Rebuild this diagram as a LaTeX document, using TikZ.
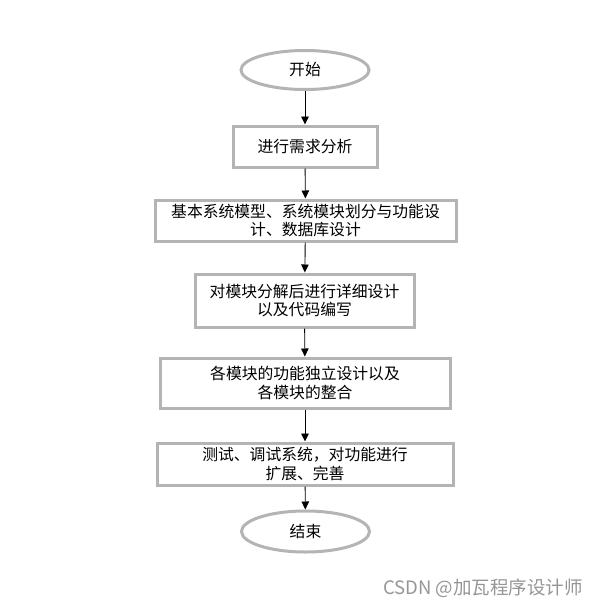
\documentclass[tikz,border=0pt]{standalone}
\usepackage{fontspec}
\newfontfamily\cjk{Noto Sans CJK SC}
\usepackage{tikz}
\usetikzlibrary{arrows.meta,positioning,shapes.geometric}
\definecolor{boxgray}{RGB}{180,180,180}
\definecolor{markgray}{RGB}{150,150,150}
\tikzset{
  startend/.style  = {ellipse, draw=boxgray, line width=3pt, fill=white,
                      inner sep=0pt, minimum width=128pt, minimum height=39pt},
  procbox/.style   = {rectangle, draw=boxgray, line width=3pt, fill=white,
                      align=center, inner sep=2pt},
  flowarrow/.style = {-{Triangle[length=8pt,width=7.5pt]}, line width=0.9pt, black},
  watermark/.style = {text=markgray, font=\cjk\fontsize{18.5}{20}\selectfont},
}

\begin{document}
\begin{tikzpicture}[x=1pt,y=-1pt,
    every node/.style={font=\cjk\fontsize{15.8}{18.5}\selectfont}]
  \useasboundingbox[fill=white] (0,0) rectangle (605,608);

  % start / end
  \node[startend] (start) at (305,70) {开始};
  \node[startend, minimum height=41pt] (finish) at (305.5,531.5) {结束};

  % steps
  \node[procbox, minimum width=144pt, minimum height=41pt] (need) at (305,146.5)
       {进行需求分析};
  \node[procbox, minimum width=301pt, minimum height=41pt] (model) at (305.5,220.5)
       {基本系统模型、系统模块划分与功能设\\计、数据库设计};
  \node[procbox, minimum width=219pt, minimum height=53pt] (detail) at (304.5,300.5)
       {对模块分解后进行详细设计\\以及代码编写};
  \node[procbox, minimum width=290pt, minimum height=50pt] (merge) at (305,383)
       {各模块的功能独立设计以及\\各模块的整合};
  \node[procbox, minimum width=296pt, minimum height=42pt] (test) at (305,464)
       {测试、调试系统，对功能进行\\扩展、完善};

  % arrows
  \draw[flowarrow] (start) -- (need);
  \draw[flowarrow] (need) -- (model);
  \draw[flowarrow] (model) -- (detail);
  \draw[flowarrow] (detail) -- (merge);
  \draw[flowarrow] (merge) -- (test);
  \draw[flowarrow] (test) -- (finish);

  \node[watermark] (mark) at (483,588) {CSDN @加瓦程序设计师};
\end{tikzpicture}
\end{document}
